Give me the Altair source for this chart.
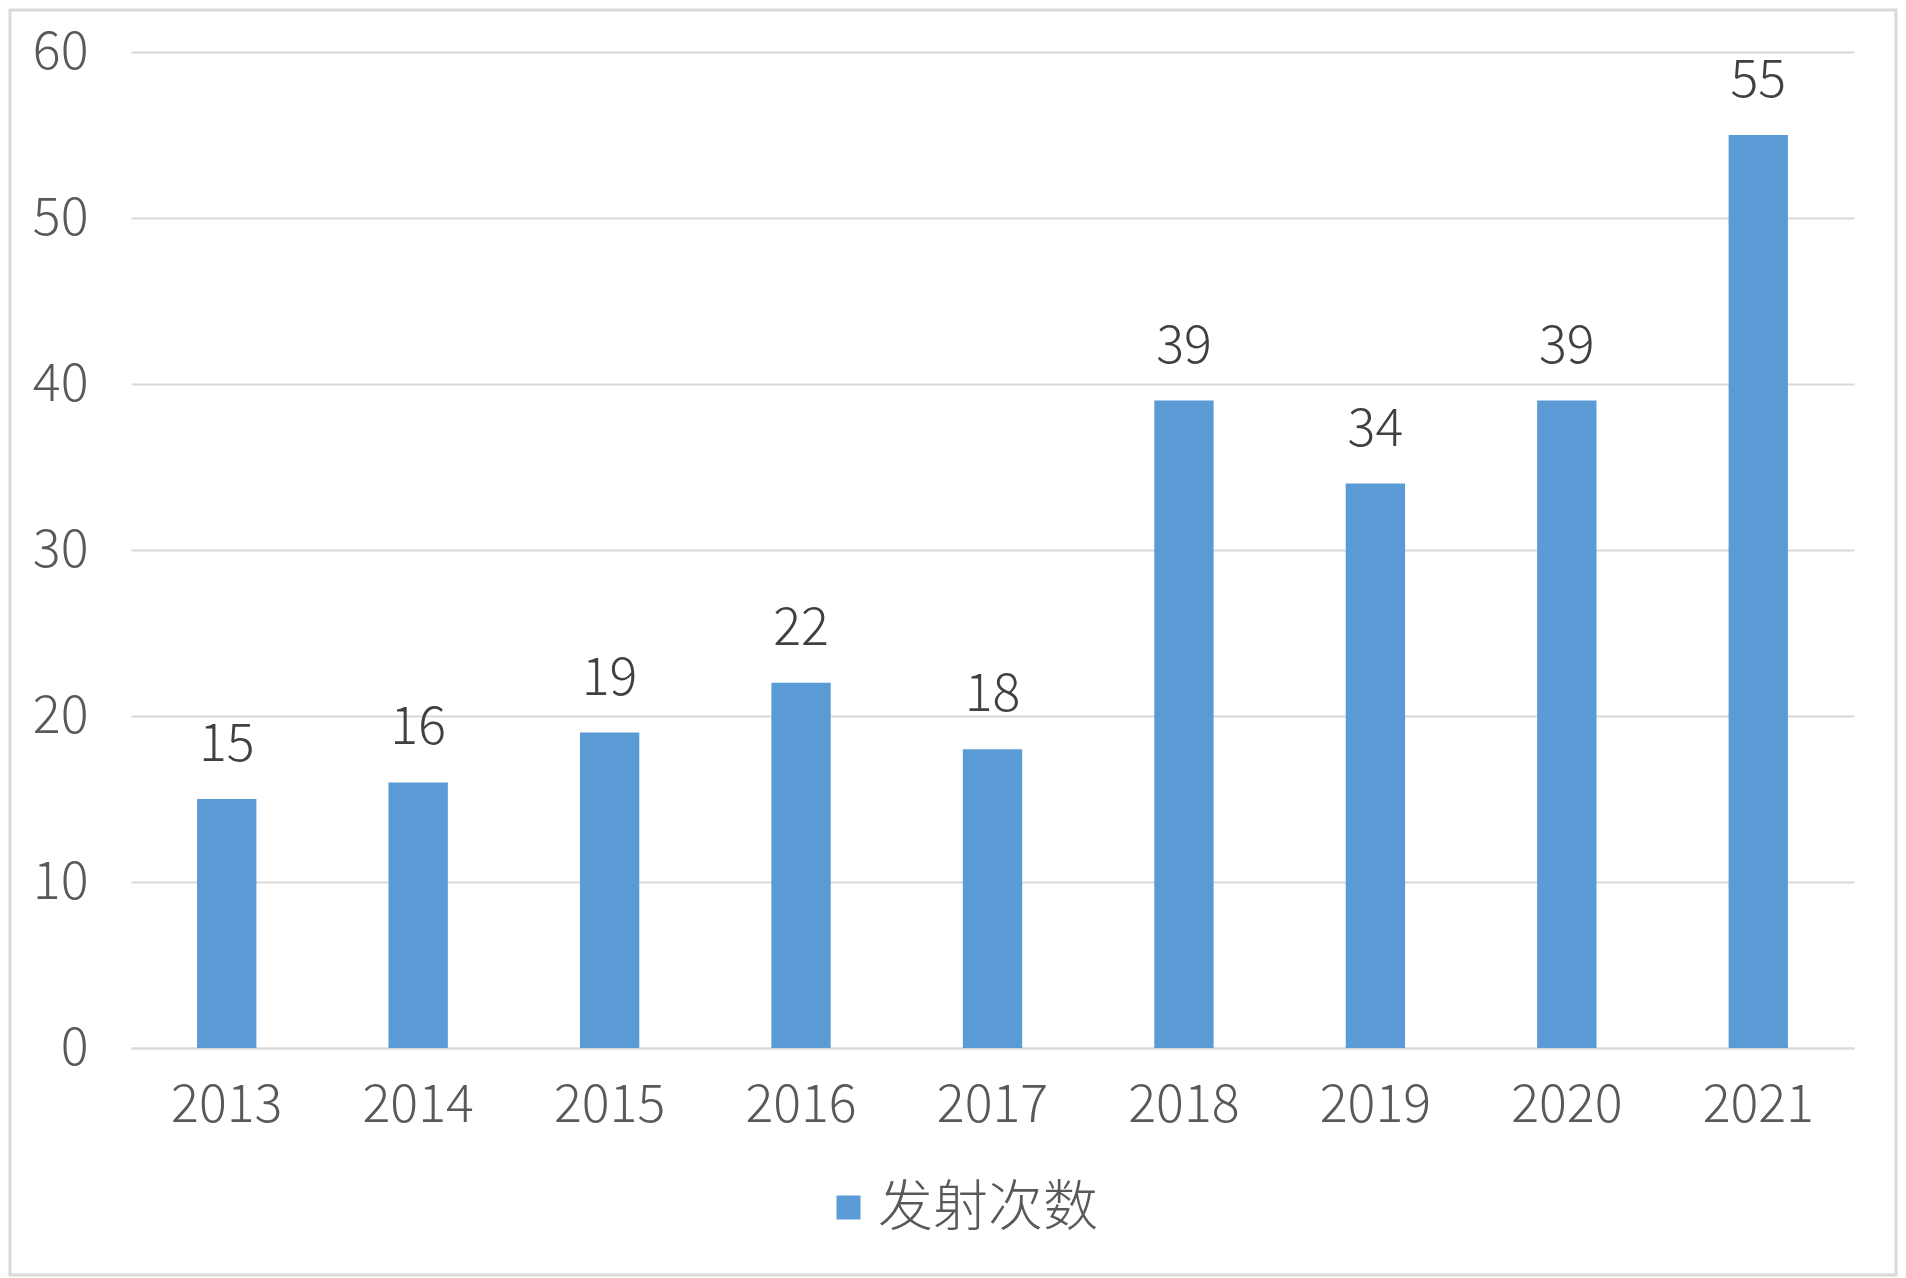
import altair as alt
import pandas as pd

years = ["2013", "2014", "2015", "2016", "2017", "2018", "2019", "2020", "2021"]
launches = [15, 16, 19, 22, 18, 39, 34, 39, 55]
series_name = "发射次数"

df = pd.DataFrame({"year": years, "launches": launches, "series": [series_name] * len(years)})

FONT = "Noto Sans CJK SC"
BAR = "#5B9BD5"
GRID = "#D9D9D9"
W = 300

x_enc = alt.X("year:N", sort=years, title=None,
              scale=alt.Scale(paddingInner=0.69, paddingOuter=0.345),
              axis=alt.Axis(labelAngle=0, labelFontSize=52, labelColor="#595959", labelFont=FONT,
                            labelFontWeight=W,
                            labelPadding=32, ticks=False, domainColor=GRID, domainWidth=2,
                            grid=False))
y_enc = alt.Y("launches:Q", title=None,
              scale=alt.Scale(domain=[0, 60], nice=False),
              axis=alt.Axis(values=[0, 10, 20, 30, 40, 50, 60], labelFontSize=52, labelColor="#595959",
                            labelFont=FONT, labelFontWeight=W, labelPadding=43, ticks=False, domain=False,
                            gridColor=GRID, gridWidth=2))

bars = alt.Chart(df).mark_bar(color=BAR).encode(
    x=x_enc,
    y=y_enc,
    color=alt.Color("series:N", title=None,
                    scale=alt.Scale(domain=[series_name], range=[BAR]),
                    legend=alt.Legend(orient="none", legendX=690, legendY=1128, direction="horizontal",
                                      symbolType="square", symbolSize=576, symbolStrokeWidth=0,
                                      labelFontSize=55, labelColor="#595959", labelFont=FONT,
                                      labelFontWeight=W, labelLimit=0, labelOffset=2)),
)

labels = alt.Chart(df).mark_text(fontSize=52, font=FONT, fontWeight=W, color="#404040",
                                 baseline="alphabetic", dy=-38).encode(
    x=alt.X("year:N", sort=years),
    y=alt.Y("launches:Q"),
    text=alt.Text("launches:Q"),
)

frame = alt.Chart(alt.Data(values=[{"a": 1}])).mark_rect(fill=None, stroke=GRID, strokeWidth=3).encode(
    x=alt.value(-121), x2=alt.value(1765), y=alt.value(-42), y2=alt.value(1223)
)

chart = alt.layer(bars, labels, frame).properties(
    width=1723, height=996,
    padding={"left": 123, "top": 44, "right": 44, "bottom": 230},
    autosize=alt.AutoSizeParams(type="none"),
).configure(background="white").configure_view(stroke=None, strokeWidth=0)

chart.save("out.html", embed_options={"renderer": "svg", "actions": False})
